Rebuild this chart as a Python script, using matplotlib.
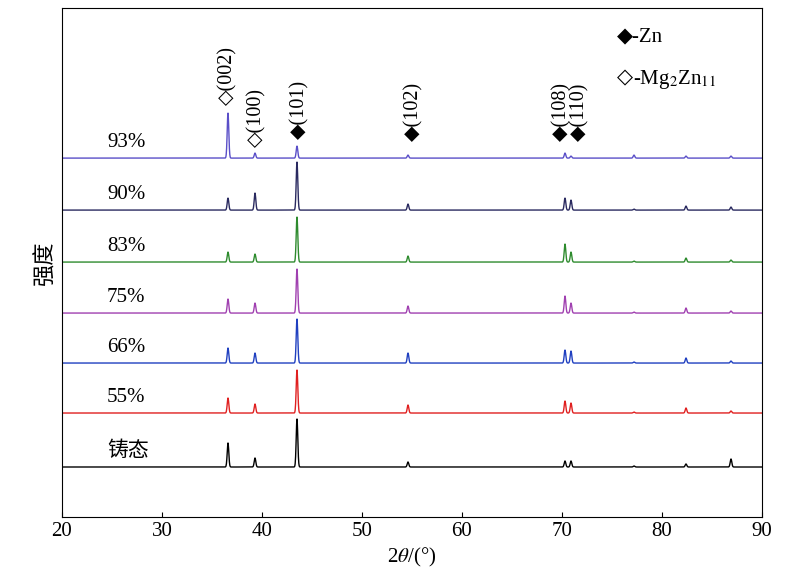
import numpy as np
import matplotlib.pyplot as plt

plt.rcParams['font.family'] = ['Liberation Serif', 'DejaVu Sans']
plt.rcParams['mathtext.fontset'] = 'stix'

peak_pos = [36.6, 39.3, 43.5, 54.6, 70.3, 70.9, 77.2, 82.4, 86.9]
labels = ['93%', '90%', '83%', '75%', '66%', '55%', '铸态']
offsets = [359, 307, 255, 204, 154, 104, 50]
colors = ['#5a4fc8', '#2a2a60', '#2e8b2e', '#a040b0', '#2040c0', '#e02020', '#000000']
heights = [
    [45, 5, 12, 3, 5, 2, 3, 2, 2],
    [12, 17, 48, 6, 12, 10, 1, 4, 3],
    [10, 8, 45, 6, 18, 10, 1, 4, 2],
    [14, 10, 44, 7, 17, 10, 1, 5, 2],
    [15, 10, 44, 10, 13, 12, 1, 5, 2],
    [15, 9, 43, 8, 12, 10, 1, 5, 2],
    [24, 9, 48, 5, 6, 6, 1, 3, 8],
]

x = np.arange(20, 90.001, 0.02)
fig = plt.figure(figsize=(8, 5.82), dpi=100)
ax = fig.add_axes([0.0775, 0.1117, 0.875, 0.8743])

for lab, off, col, hs in zip(labels, offsets, colors, heights):
    y = np.full_like(x, off, dtype=float)
    for p, h in zip(peak_pos, hs):
        y += h * np.exp(-0.5 * ((x - p) / 0.08) ** 2)
    ax.plot(x, y, color=col, lw=1)
    fam = ['Noto Sans CJK SC'] if lab == '铸态' else None
    ax.text(24.5, off + 6, lab, fontsize=15, family=fam, va='bottom')

# phase annotations
ann = [(36.6, 412, '◇(002)'), (39.5, 370, '◇(100)'), (43.8, 378, '◆(101)'),
       (55.2, 376, '◆(102)'), (70.0, 376, '◆(108)'), (71.8, 376, '◆(110)')]
for xp, yp, t in ann:
    ax.text(xp, yp, t, rotation=90, fontsize=14.5, ha='center', va='bottom')

ax.text(75.5, 480, '◆-Zn', fontsize=15, va='center')
ax.text(75.5, 438, '◇', fontsize=15, va='center')
ax.text(77.1, 438, r'-Mg$_2$Zn$_{11}$', fontsize=15, va='center')

ax.set_xlim(20, 90)
ax.set_ylim(0, 509)
ax.set_xticks(range(20, 91, 10))
ax.set_yticks([])
ax.tick_params(axis='x', direction='in', labelsize=15)
ax.set_xlabel(r'2$\theta$/(°)', fontsize=15)
ax.set_ylabel('强度', fontsize=16, family='Noto Sans CJK SC')

fig.savefig('out.png', dpi=100)
